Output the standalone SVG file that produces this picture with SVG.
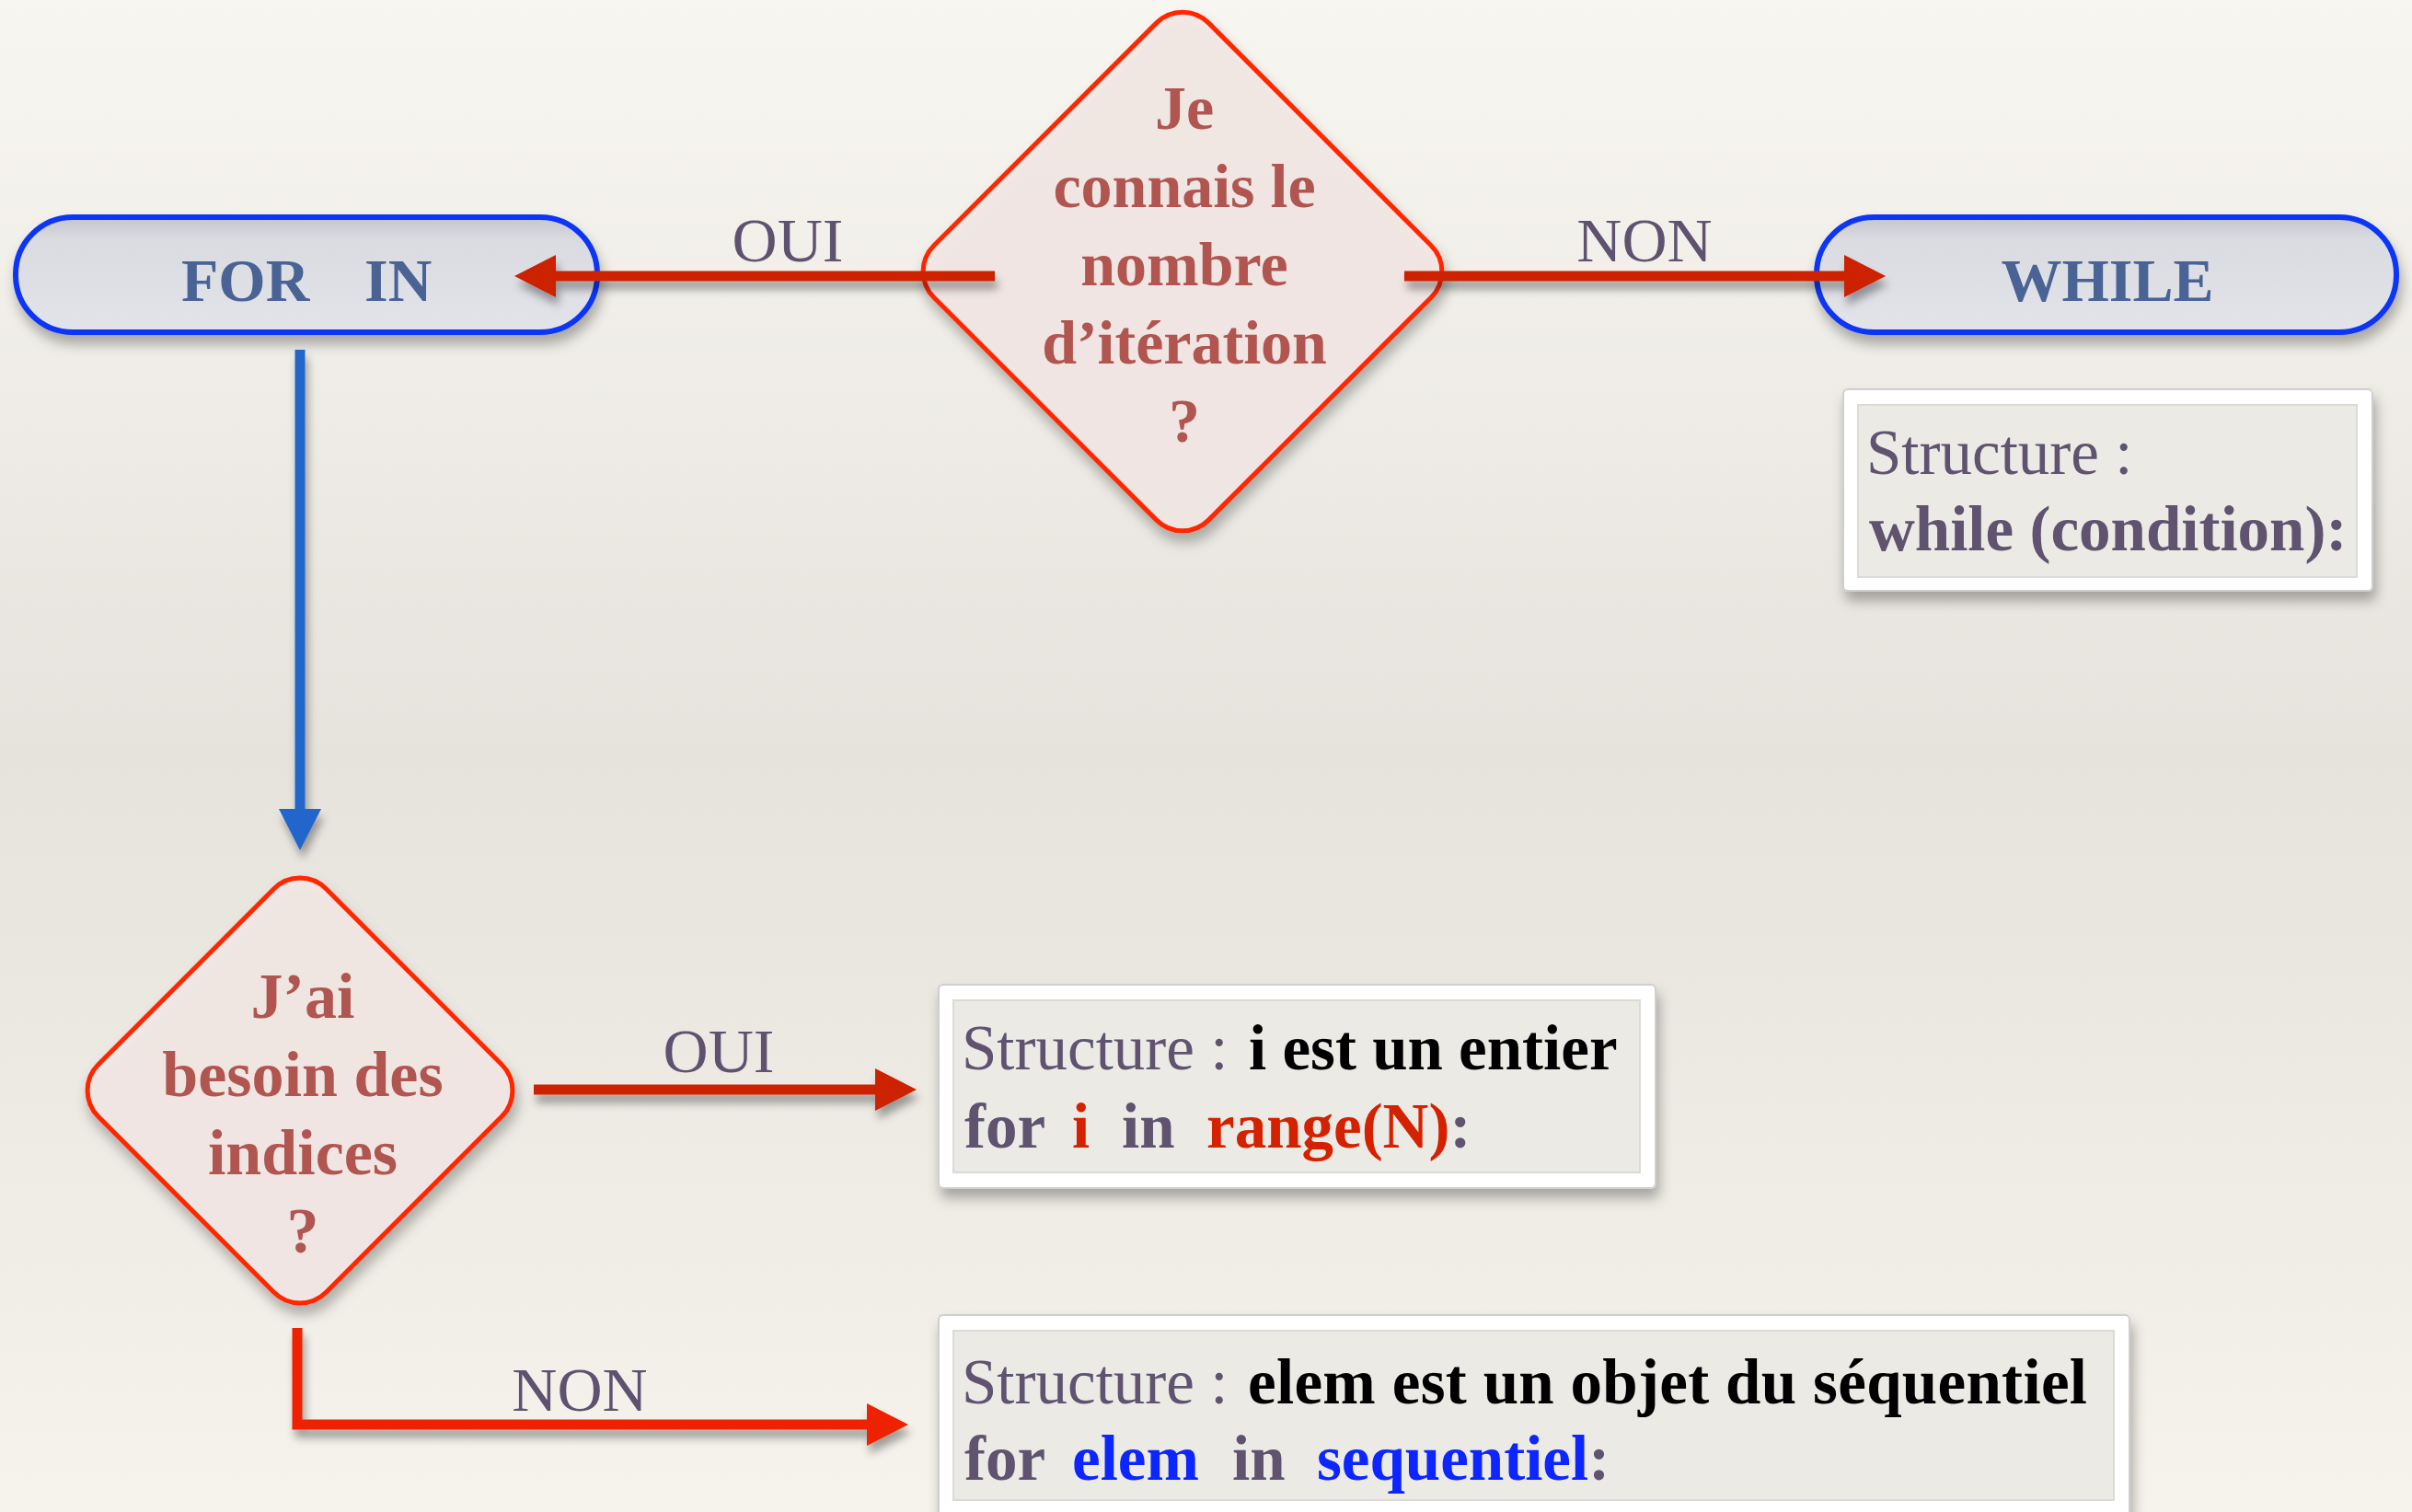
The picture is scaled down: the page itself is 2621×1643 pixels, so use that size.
<svg xmlns="http://www.w3.org/2000/svg" width="2621" height="1643" viewBox="0 0 2621 1643">
<defs>
  <linearGradient id="bg" x1="0" y1="0" x2="0" y2="1">
    <stop offset="0" stop-color="#f8f6f0"/>
    <stop offset="0.5" stop-color="#e6e3dd"/>
    <stop offset="1" stop-color="#f6f3ec"/>
  </linearGradient>
  <linearGradient id="pillFill" x1="0" y1="0" x2="0" y2="1">
    <stop offset="0" stop-color="#c4c4cc"/>
    <stop offset="0.18" stop-color="#dadae1"/>
    <stop offset="1" stop-color="#e3e3ea"/>
  </linearGradient>
  <filter id="shadow" x="-20%" y="-20%" width="140%" height="150%">
    <feDropShadow dx="3" dy="10" stdDeviation="7" flood-color="#000" flood-opacity="0.3"/>
  </filter>
  <filter id="ashadow" x="-10%" y="-50%" width="120%" height="300%">
    <feDropShadow dx="3" dy="9" stdDeviation="5" flood-color="#000" flood-opacity="0.35"/>
  </filter>
  <marker id="redHead" viewBox="0 -23 46 46" markerUnits="userSpaceOnUse" markerWidth="46" markerHeight="46" refX="1" refY="0" orient="auto">
    <path d="M0,-23 L45,0 L0,23 Z" fill="#cc2000"/>
  </marker>
  <marker id="redHead2" viewBox="0 -23 46 46" markerUnits="userSpaceOnUse" markerWidth="46" markerHeight="46" refX="1" refY="0" orient="auto">
    <path d="M0,-23 L45,0 L0,23 Z" fill="#ee2000"/>
  </marker>
  <marker id="blueHead" viewBox="0 -23 46 46" markerUnits="userSpaceOnUse" markerWidth="46" markerHeight="46" refX="1" refY="0" orient="auto">
    <path d="M0,-23 L45,0 L0,23 Z" fill="#2266cc"/>
  </marker>
</defs>
<style>
  text { font-family: "Liberation Serif", "Times New Roman", serif; }
  .pill { fill: url(#pillFill); stroke: #0a35f5; stroke-width: 6; }
  .pilltxt { font-size: 66px; font-weight: bold; fill: #4a6494; }
  .dia { fill: #f3e8e4; fill-opacity: 0.9; stroke: #ff2600; stroke-width: 5; }
  .diatxt { font-size: 68px; font-weight: bold; fill: #b0554f; text-anchor: middle; }
  .diatxt2 { font-size: 70px; }
  .lbl { font-size: 68px; fill: #5e5270; text-anchor: middle; }
  .outer { fill: #ffffff; stroke: #cfcfcf; stroke-width: 2; }
  .inner { fill: #e6e3dc; fill-opacity: 0.75; stroke: #dcdad6; stroke-width: 2; }
  .box { font-size: 69px; fill: #5e5270; }
  .b { font-weight: bold; }
  .k { fill: #000000; }
  .r { fill: #d42000; }
  .bl { fill: #0a28ff; }
  .con { fill: none; stroke-width: 11; }
</style>
<rect x="0" y="0" width="2621" height="1643" fill="url(#bg)"/>

<g id="forin" filter="url(#shadow)">
  <rect class="pill" x="17" y="236" width="632" height="125" rx="62"/>
  <text class="pilltxt" y="327"><tspan x="197">FOR</tspan><tspan x="396">IN</tspan></text>
</g>

<g id="while" filter="url(#shadow)">
  <rect class="pill" x="1974" y="236" width="630" height="125" rx="62"/>
  <text class="pilltxt" x="2290" y="327" text-anchor="middle">WHILE</text>
</g>

<g id="q1" filter="url(#shadow)">
  <rect class="dia" x="-211" y="-211" width="422" height="422" rx="40" transform="translate(1285,295) rotate(45)"/>
  <text class="diatxt" x="1287" y="140">Je</text>
  <text class="diatxt" x="1287" y="225">connais le</text>
  <text class="diatxt" x="1287" y="310">nombre</text>
  <text class="diatxt" x="1287" y="395">d’itération</text>
  <text class="diatxt" x="1287" y="480">?</text>
</g>

<g id="q2" filter="url(#shadow)">
  <rect class="dia" x="-175" y="-175" width="350" height="350" rx="40" transform="translate(326,1185) rotate(45)"/>
  <text class="diatxt diatxt2" x="329" y="1106">J’ai</text>
  <text class="diatxt diatxt2" x="329" y="1191">besoin des</text>
  <text class="diatxt diatxt2" x="329" y="1276">indices</text>
  <text class="diatxt diatxt2" x="329" y="1361">?</text>
</g>

<g id="whilebox" filter="url(#shadow)">
  <rect class="outer" x="2003" y="423" width="575" height="219" rx="5"/>
  <rect class="inner" x="2019" y="440" width="542" height="187"/>
  <text class="box" x="2028" y="515">Structure :</text>
  <text class="box b" x="2031" y="598">while (condition):</text>
</g>

<g id="rangebox" filter="url(#shadow)">
  <rect class="outer" x="1020" y="1070" width="779" height="221" rx="5"/>
  <rect class="inner" x="1036" y="1087" width="746" height="187"/>
  <text class="box" y="1162"><tspan x="1045">Structure :</tspan><tspan class="b k" x="1357">i est un entier</tspan></text>
  <text class="box b" y="1247"><tspan x="1048">for</tspan><tspan class="r" x="1165">i</tspan><tspan x="1219">in</tspan><tspan class="r" x="1311">range(N)</tspan><tspan>:</tspan></text>
</g>

<g id="seqbox" filter="url(#shadow)">
  <rect class="outer" x="1020" y="1429" width="1294" height="240" rx="5"/>
  <rect class="inner" x="1036" y="1446" width="1261" height="184"/>
  <text class="box" y="1525"><tspan x="1045">Structure :</tspan><tspan class="b k" x="1356" textLength="912">elem est un objet du séquentiel</tspan></text>
  <text class="box b" y="1608"><tspan x="1048">for</tspan><tspan class="bl" x="1165">elem</tspan><tspan x="1339">in</tspan><tspan class="bl" x="1431">sequentiel</tspan><tspan>:</tspan></text>
</g>

<g id="connectors">
  <g filter="url(#ashadow)">
    <line class="con" x1="1081" y1="300" x2="603" y2="300" stroke="#cc2000" marker-end="url(#redHead)"/>
    <line class="con" x1="1526" y1="300" x2="2005" y2="300" stroke="#cc2000" marker-end="url(#redHead)"/>
    <line class="con" x1="326" y1="380" x2="326" y2="880" stroke="#2266cc" marker-end="url(#blueHead)"/>
    <line class="con" x1="580" y1="1184" x2="952" y2="1184" stroke="#cc2000" marker-end="url(#redHead)"/>
    <path class="con" d="M323,1443 V1548 H943" stroke="#ee2000" stroke-linejoin="miter" marker-end="url(#redHead2)"/>
  </g>
  <text class="lbl" x="856" y="284">OUI</text>
  <text class="lbl" x="1787" y="284">NON</text>
  <text class="lbl" x="781" y="1165">OUI</text>
  <text class="lbl" x="630" y="1533">NON</text>
</g>
</svg>
